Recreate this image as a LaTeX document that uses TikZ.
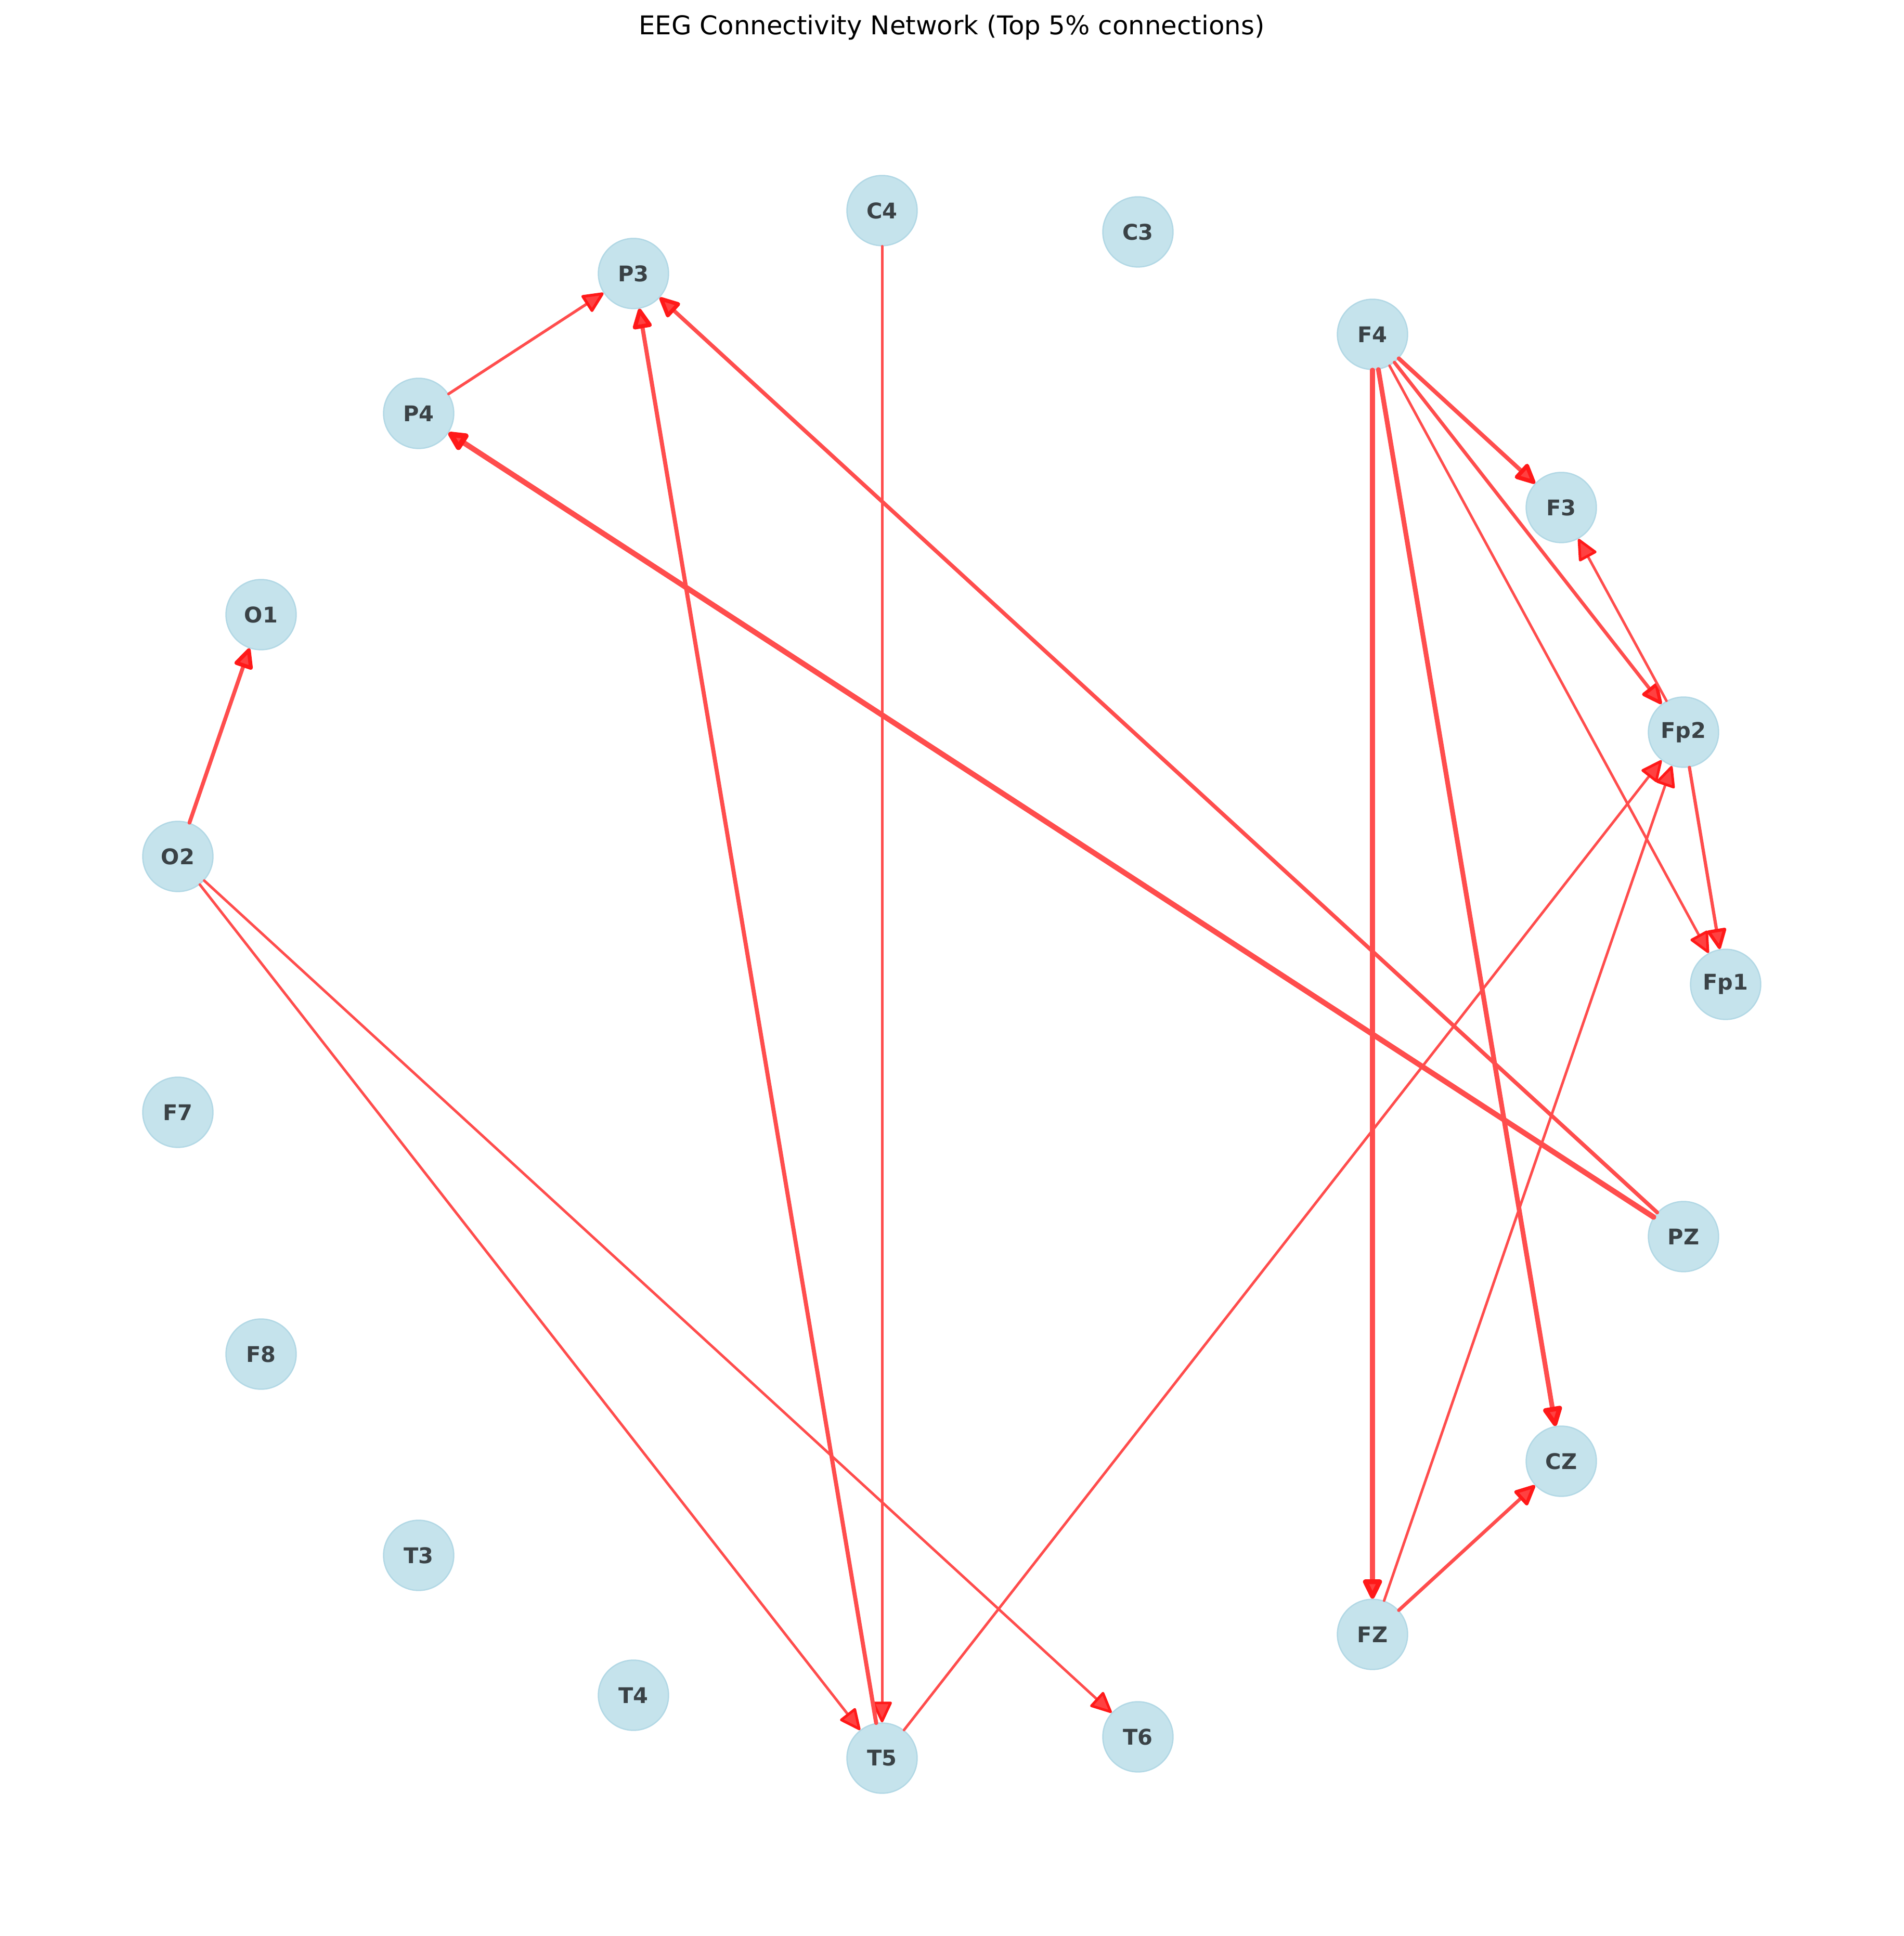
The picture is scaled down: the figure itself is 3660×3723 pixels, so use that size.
\documentclass[tikz,border=0pt]{standalone}
\usepackage{fontspec}
\setmainfont{DejaVu Sans}
\usetikzlibrary{arrows.meta}
\definecolor{nodefill}{RGB}{197,227,236}
\definecolor{nodering}{RGB}{178,216,229}
\definecolor{linkred}{RGB}{255,77,77}
\definecolor{tipred}{RGB}{255,25,25}
\definecolor{tipfill}{RGB}{255,65,65}
\definecolor{labelgray}{RGB}{58,66,70}
\tikzset{
  electrode/.style={circle, fill=nodefill, draw=nodering, line width=0.6pt, minimum size=32.5pt, inner sep=0pt, font=\bfseries, text=labelgray},
  conn/.style={draw=linkred, line cap=round, -{Triangle[length=10.5pt,width=9.5pt,round,color=tipred,fill=tipfill]}}
}
\begin{document}
\begin{tikzpicture}[x=0.2409pt, y=0.2409pt]
\useasboundingbox (0,0) rectangle (3660,3723);

\node[font=\fontsize{12}{14}\selectfont, inner sep=0pt] (title) at (1830,3670) {EEG Connectivity Network (Top 5\% connections)};

\node[electrode] (Fp1) at (3318,1830) {Fp1};
\node[electrode] (Fp2) at (3237,2315) {Fp2};
\node[electrode] (F3) at (3002,2747) {F3};
\node[electrode] (F4) at (2639,3080) {F4};
\node[electrode] (C3) at (2188,3277) {C3};
\node[electrode] (C4) at (1696,3318) {C4};
\node[electrode] (P3) at (1218,3197) {P3};
\node[electrode] (P4) at (805,2928) {P4};
\node[electrode] (O1) at (502,2541) {O1};
\node[electrode] (O2) at (342,2076) {O2};
\node[electrode] (F7) at (342,1584) {F7};
\node[electrode] (F8) at (502,1119) {F8};
\node[electrode] (T3) at (805,732) {T3};
\node[electrode] (T4) at (1218,463) {T4};
\node[electrode] (T5) at (1696,342) {T5};
\node[electrode] (T6) at (2188,383) {T6};
\node[electrode] (FZ) at (2639,580) {FZ};
\node[electrode] (CZ) at (3002,913) {CZ};
\node[electrode] (PZ) at (3237,1345) {PZ};

\draw[conn, line width=1.3pt] (P4) -- (P3);
\draw[conn, line width=1.2pt] (C4) -- (T5);
\draw[conn, line width=1.9pt] (F4) -- (F3);
\draw[conn, line width=1.6pt] (F4) -- (Fp2);
\draw[conn, line width=1.2pt] (F4) -- (Fp1);
\draw[conn, line width=2.2pt] (F4) -- (FZ);
\draw[conn, line width=2.2pt] (F4) -- (CZ);
\draw[conn, line width=1.2pt] (Fp2) -- (F3);
\draw[conn, line width=1.5pt] (Fp2) -- (Fp1);
\draw[conn, line width=1.6pt] (FZ) -- (CZ);
\draw[conn, line width=1.2pt] (FZ) -- (Fp2);
\draw[conn, line width=1.2pt] (T5) -- (Fp2);
\draw[conn, line width=1.9pt] (T5) -- (P3);
\draw[conn, line width=1.8pt] (O2) -- (O1);
\draw[conn, line width=1.2pt] (O2) -- (T5);
\draw[conn, line width=1.2pt] (O2) -- (T6);
\draw[conn, line width=1.8pt] (PZ) -- (P3);
\draw[conn, line width=2.5pt] (PZ) -- (P4);
\end{tikzpicture}
\end{document}
